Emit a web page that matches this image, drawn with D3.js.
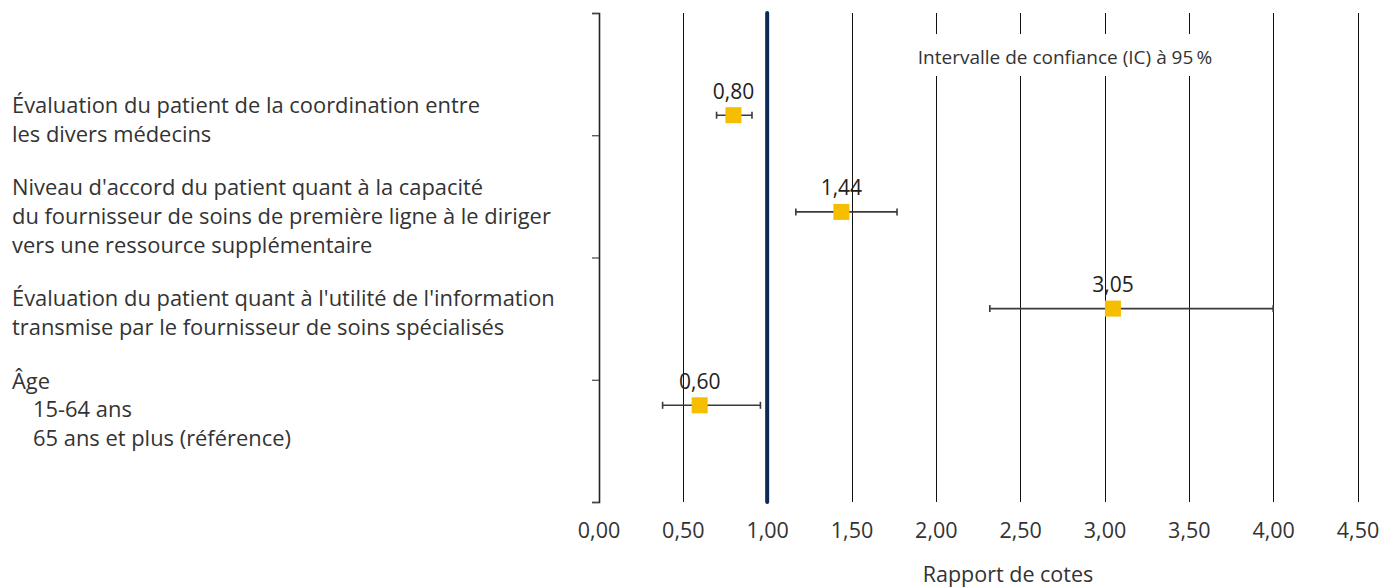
<!DOCTYPE html>
<html lang="fr">
<head>
<meta charset="utf-8">
<script src="https://cdn.jsdelivr.net/npm/d3@7/dist/d3.min.js"></script>
<style>
  html, body { margin: 0; padding: 0; background: #fff; }
  svg { display: block; font-family: "Open Sans", sans-serif; }
</style>
</head>
<body>
<svg id="chart" width="1395" height="588"></svg>
<script>
// Rapports de cotes et intervalles de confiance à 95 %
const categories = [
  ["Évaluation du patient de la coordination entre", "les divers médecins"],
  ["Niveau d'accord du patient quant à la capacité", "du fournisseur de soins de première ligne à le diriger", "vers une ressource supplémentaire"],
  ["Évaluation du patient quant à l'utilité de l'information", "transmise par le fournisseur de soins spécialisés"],
  ["Âge", "  15-64 ans", "  65 ans et plus (référence)"]
];
const oddsRatios = [0.80, 1.44, 3.05, 0.60];
const ciLower    = [0.70, 1.17, 2.32, 0.38];
const ciUpper    = [0.91, 1.77, 4.00, 0.96];
const xTicks     = [0, 0.5, 1, 1.5, 2, 2.5, 3, 3.5, 4, 4.5];
const yTicks     = [0, 1, 2, 3, 4];
const referenceValue = 1.0;
const ciNote = "Intervalle de confiance (IC) à 95\u2009%";
const xTitle = "Rapport de cotes";

const svg = d3.select("#chart");
const fr = d3.formatLocale({ decimal: ",", thousands: "\u00a0", grouping: [3], currency: ["", " $"] });
const fmt = fr.format(".2f");

const plotTop = 13, plotBottom = 502;
const x = d3.scaleLinear().domain([0, 4.5]).range([598.5, 1357.5]);
const yAxisScale = d3.scaleLinear().domain([0, 4]).range([plotBottom, plotTop]);
const rowKeys = categories.map((_, i) => i);
const y = d3.scalePoint().domain(rowKeys).range([18.5, plotBottom]).padding(1);

// Quadrillage vertical
svg.append("g").selectAll("line")
  .data(xTicks.filter(t => t !== referenceValue && t !== 0))
  .join("line")
  .attr("x1", d => Math.round(x(d)) + 0.5).attr("x2", d => Math.round(x(d)) + 0.5)
  .attr("y1", plotTop).attr("y2", plotBottom)
  .attr("stroke", "#111").attr("stroke-width", 1);

// Note sur l'intervalle de confiance (fond blanc qui masque le quadrillage)
const noteG = svg.append("g");
noteG.append("rect")
  .attr("x", 905).attr("y", 34).attr("width", 322).attr("height", 42)
  .attr("fill", "#fff");
noteG.append("text")
  .attr("x", 1065).attr("y", 63.5)
  .attr("text-anchor", "middle")
  .attr("font-size", 19).attr("fill", "#333")
  .text(ciNote);

// Axe vertical avec graduations
const yAxis = d3.axisLeft(yAxisScale).tickValues(yTicks).tickSize(7).tickFormat("");
const yg = svg.append("g").attr("transform", "translate(599,0)").call(yAxis);
yg.select(".domain").attr("stroke", "#222").attr("stroke-width", 1.6);
yg.selectAll(".tick line").attr("stroke", "#444").attr("stroke-width", 1.2);

// Ligne de référence (rapport de cotes = 1)
svg.append("line")
  .attr("x1", x(referenceValue)).attr("x2", x(referenceValue))
  .attr("y1", plotTop).attr("y2", plotBottom)
  .attr("stroke", "#0b2a58").attr("stroke-width", 4)
  .attr("stroke-linecap", "round");

// Axe horizontal
const xAxis = d3.axisBottom(x).tickValues(xTicks).tickSize(0).tickPadding(0).tickFormat(fmt);
const xg = svg.append("g").attr("transform", `translate(0,${plotBottom})`).call(xAxis);
xg.select(".domain").remove();
xg.selectAll(".tick text")
  .attr("y", 36).attr("dy", "0")
  .attr("font-size", 21.5).attr("fill", "#333")
  .attr("font-family", "'Open Sans', sans-serif");

svg.append("text")
  .attr("x", 1008).attr("y", 582)
  .attr("text-anchor", "middle")
  .attr("font-size", 21.5).attr("fill", "#333")
  .text(xTitle);

// Intervalles de confiance
const rows = rowKeys.map(i => ({ i, or: oddsRatios[i], lo: ciLower[i], hi: ciUpper[i] }));
const ci = svg.append("g").selectAll("g").data(rows).join("g")
  .attr("stroke", "#3a3a3a").attr("stroke-width", 1.6);
ci.append("line")
  .attr("x1", d => x(d.lo)).attr("x2", d => x(d.hi))
  .attr("y1", d => y(d.i)).attr("y2", d => y(d.i));
ci.append("line")
  .attr("x1", d => x(d.lo)).attr("x2", d => x(d.lo))
  .attr("y1", d => y(d.i) - 3.5).attr("y2", d => y(d.i) + 3.5);
ci.append("line")
  .attr("x1", d => x(d.hi)).attr("x2", d => x(d.hi))
  .attr("y1", d => y(d.i) - 3.5).attr("y2", d => y(d.i) + 3.5);

// Marqueurs carrés
const size = 16;
svg.append("g").selectAll("rect").data(rows).join("rect")
  .attr("x", d => x(d.or) - size / 2).attr("y", d => y(d.i) - size / 2)
  .attr("width", size).attr("height", size)
  .attr("fill", "#f6be00");

// Étiquettes de valeur
svg.append("g").selectAll("text").data(rows).join("text")
  .attr("x", d => x(d.or)).attr("y", d => y(d.i) - 16.5)
  .attr("text-anchor", "middle")
  .attr("font-size", 21).attr("fill", "#222")
  .text(d => fmt(d.or));

// Libellés des catégories
const lineH = 28.7;
const lab = svg.append("g").selectAll("text").data(rows).join("text")
  .attr("font-size", 21.9).attr("fill", "#333");
lab.each(function (d) {
  const lines = categories[d.i];
  const t = d3.select(this);
  const y0 = y(d.i) - (lines.length - 1) * lineH / 2 + 12;
  lines.forEach((ln, k) => {
    const indent = ln.startsWith("  ");
    t.append("tspan")
      .attr("x", indent ? 33 : 12)
      .attr("y", y0 + k * lineH)
      .text(ln.trim());
  });
});
</script>
</body>
</html>
